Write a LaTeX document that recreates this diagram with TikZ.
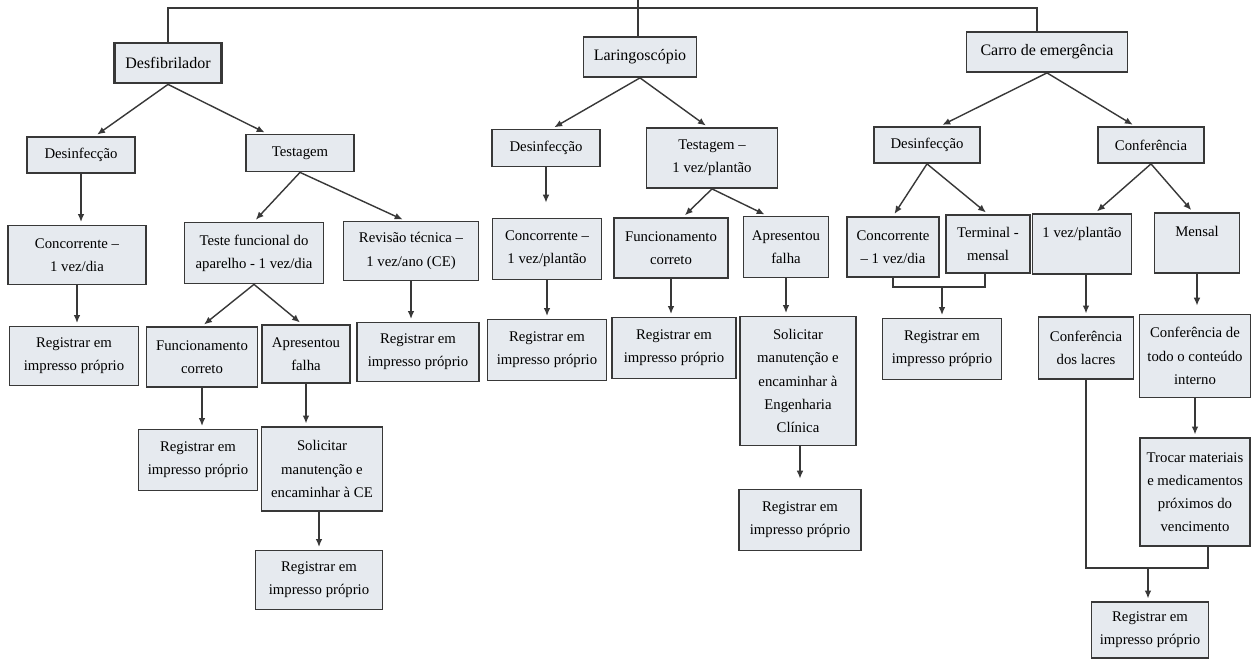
\documentclass[tikz,border=0pt]{standalone}
\usepackage{fontspec}
\setmainfont{Liberation Serif}
\usetikzlibrary{calc,positioning,arrows.meta}

\definecolor{boxfill}{HTML}{E6EAEF}
\definecolor{boxline}{HTML}{383838}

\tikzset{
	box/.style={draw=boxline,fill=boxfill,line width=1pt,align=center,inner sep=1pt,
		font=\fontsize{8.4}{13.2}\selectfont},
	topbox/.style={box,font=\fontsize{9.1}{13}\selectfont},
	sz/.style 2 args={minimum width=#1*0.02cm,minimum height=#2*0.02cm},
	arr/.style={draw=boxline,line width=0.8pt,-{Latex[length=4.5pt,width=3.8pt]},shorten >=1.5pt},
	ln/.style={draw=boxline,line width=0.8pt}
}

\begin{document}
\begin{tikzpicture}[x=0.02cm,y=-0.02cm]

\path[use as bounding box,fill=white] (0,0) rectangle (1251,659);

\coordinate (root) at (638,0);

% Desfibrilador
\node[topbox,sz={107}{40},line width=1.6pt] (desf) at (168,63) {Desfibrilador};
\node[box,sz={108}{36}] (dsL) at (81,155) {Desinfecção};
\node[box,sz={108}{37}] (tstL) at (300,153) {Testagem};
\node[box,sz={138}{59}] (concL) at (77,255) {Concorrente --\\1 vez/dia};
\node[box,sz={139}{61}] (tfL) at (254,253) {Teste funcional do\\aparelho - 1 vez/dia};
\node[box,sz={135}{59}] (revL) at (411,251) {Revisão técnica --\\1 vez/ano (CE)};
\node[box,sz={129}{59}] (regL1) at (74,356) {Registrar em\\impresso próprio};
\node[box,sz={111}{60}] (funL) at (202,357) {Funcionamento\\correto};
\node[box,sz={88}{58}] (apL) at (306,354) {Apresentou\\falha};
\node[box,sz={122}{59}] (regL2) at (418,352) {Registrar em\\impresso próprio};
\node[box,sz={119}{61}] (regL3) at (198,460) {Registrar em\\impresso próprio};
\node[box,sz={121}{84}] (solL) at (322,469) {Solicitar\\manutenção e\\encaminhar à CE};
\node[box,sz={127}{59}] (regL4) at (319,580) {Registrar em\\impresso próprio};

% Laringoscopio
\node[topbox,sz={113}{40}] (lar) at (640,57) {Laringoscópio};
\node[box,sz={108}{37}] (dsM) at (546,148) {Desinfecção};
\node[box,sz={131}{60}] (tstM) at (712,158) {Testagem --\\1 vez/plantão};
\node[box,sz={109}{61}] (concM) at (547,249) {Concorrente --\\1 vez/plantão};
\node[box,sz={114}{60}] (funM) at (671,248) {Funcionamento\\correto};
\node[box,sz={85}{61}] (apM) at (786,247) {Apresentou\\falha};
\node[box,sz={119}{61}] (regM1) at (547,350) {Registrar em\\impresso próprio};
\node[box,sz={124}{61}] (regM2) at (674,348) {Registrar em\\impresso próprio};
\node[box,sz={116}{129}] (solM) at (798,381) {Solicitar\\manutenção e\\encaminhar à\\Engenharia\\Clínica};
\node[box,sz={122}{61}] (regM3) at (800,520) {Registrar em\\impresso próprio};

% Carro de emergencia
\node[topbox,sz={161}{40}] (carro) at (1047,52) {Carro de emergência};
\node[box,sz={106}{36}] (dsR) at (927,145) {Desinfecção};
\node[box,sz={106}{36}] (confR) at (1151,145) {Conferência};
\node[box,sz={92}{60}] (concR) at (893,247) {Concorrente\\-- 1 vez/dia};
\node[box,sz={84}{58}] (termR) at (988,244) {Terminal -\\mensal};
\node[box,sz={119}{61}] (regR1) at (942,349) {Registrar em\\impresso próprio};
\node[box,sz={99}{60}] (plR) at (1082,244) {1 vez/plantão\\~};
\node[box,sz={85}{60}] (menR) at (1197,243) {Mensal\\~};
\node[box,sz={95}{62}] (lacR) at (1086,348) {Conferência\\dos lacres};
\node[box,sz={111}{83}] (todoR) at (1195,356) {Conferência de\\todo o conteúdo\\interno};
\node[box,sz={110}{108}] (trocR) at (1195,492) {Trocar materiais\\e medicamentos\\próximos do\\vencimento};
\node[box,sz={117}{56}] (regR2) at (1150,630) {Registrar em\\impresso próprio};

\coordinate (mergeR1) at (942,287);
\coordinate (mergeR2) at (1148,568);

% linha superior
\draw[ln] (root) -- (root |- lar.north);
\draw[ln] (desf.north) |- ($(root)+(0,8)$) -| ([xshift=-0.2cm]carro.north);

\draw[arr] (desf.south) -- ([xshift=0.28cm]dsL.north);
\draw[arr] (desf.south) -- ([xshift=-0.66cm]tstL.north);
\draw[arr] (dsL.south) -- (dsL.south |- concL.north);
\draw[arr] (concL.south) -- (concL.south |- regL1.north);
\draw[arr] (tstL.south) -- (tfL.north);
\draw[arr] (tstL.south) -- ([xshift=-0.12cm]revL.north);
\draw[arr] (revL.south) -- (revL.south |- regL2.north);
\draw[arr] (tfL.south) -- (funL.north);
\draw[arr] (tfL.south) -- ([xshift=-0.08cm]apL.north);
\draw[arr] (funL.south) -- (funL.south |- regL3.north);
\draw[arr] (apL.south) -- (apL.south |- solL.north);
\draw[arr] (solL.south -| regL4.north) -- (regL4.north);

\draw[arr] (lar.south) -- ([xshift=0.12cm]dsM.north);
\draw[arr] (lar.south) -- ([xshift=-0.08cm]tstM.north);
\draw[arr,shorten >=0.3cm] (dsM.south) -- (dsM.south |- concM.north);
\draw[arr] (concM.south) -- (concM.south |- regM1.north);
\draw[arr] (tstM.south) -- ([xshift=0.24cm]funM.north);
\draw[arr] (tstM.south) -- ([xshift=-0.38cm]apM.north);
\draw[arr] (funM.south) -- (funM.south |- regM2.north);
\draw[arr] (apM.south) -- (apM.south |- solM.north);
\draw[arr,shorten >=0.2cm] (solM.south -| regM3.north) -- (regM3.north);

\draw[arr] (carro.south) -- ([xshift=0.26cm]dsR.north);
\draw[arr] (carro.south) -- ([xshift=-0.32cm]confR.north);
\draw[arr] (dsR.south) -- (concR.north);
\draw[arr] (dsR.south) -- (termR.north);
\draw[ln] (concR.south) |- (mergeR1) -| ([xshift=-0.06cm]termR.south);
\draw[arr] (mergeR1) -- (regR1.north);
\draw[arr] (confR.south) -- ([xshift=0.26cm]plR.north);
\draw[arr] (confR.south) -- ([xshift=-0.08cm]menR.north);
\draw[arr] (plR.south -| lacR.north) -- (lacR.north);
\draw[arr,shorten >=0.16cm] (menR.south) -- (menR.south |- todoR.north);
\draw[arr] (todoR.south) -- (todoR.south |- trocR.north);
\draw[ln] (lacR.south) |- (mergeR2) -| ([xshift=0.26cm]trocR.south);
\draw[arr] (mergeR2) -- (mergeR2 |- regR2.north);

\end{tikzpicture}
\end{document}
